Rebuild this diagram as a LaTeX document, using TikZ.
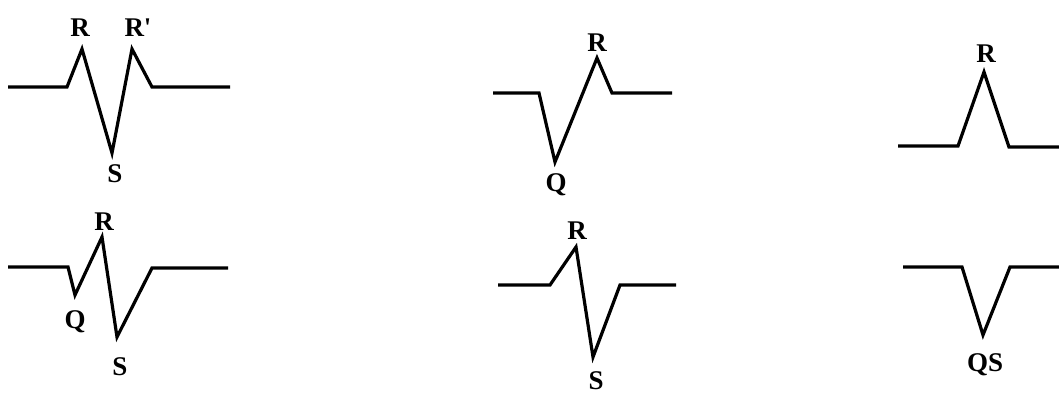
\documentclass[tikz,border=0pt]{standalone}
\usepackage{fontspec}
\setmainfont{Liberation Serif}
\begin{document}
\begin{tikzpicture}[x=1pt,y=-1pt,
  wave/.style={line width=3.2pt,line join=miter,miter limit=10},
  lbl/.style={font=\fontsize{27}{27}\selectfont\bfseries,inner sep=0pt}]
\useasboundingbox (0,0) rectangle (1059,394);
% panel 1: R S R'
\coordinate (a0) at (8,87); \coordinate (a1) at (67,87); \coordinate (aR) at (82,49);
\coordinate (aS) at (112,153); \coordinate (aR2) at (132,49); \coordinate (a2) at (152,87);
\coordinate (a3) at (230,87);
\draw[wave] (a0) -- (a1) -- (aR) -- (aS) -- (aR2) -- (a2) -- (a3);
\node[lbl] (laR) at (80,28) {R};
\node[lbl] (laR2) at (138,28) {R\textquotesingle};
\node[lbl] (laS) at (115,174) {S};
% panel 2: Q R
\coordinate (b0) at (493,93); \coordinate (b1) at (539,93); \coordinate (bQ) at (555,162);
\coordinate (bR) at (597,58); \coordinate (b2) at (612,93); \coordinate (b3) at (672,93);
\draw[wave] (b0) -- (b1) -- (bQ) -- (bR) -- (b2) -- (b3);
\node[lbl] (lbR) at (597,43) {R};
\node[lbl] (lbQ) at (556,185) {Q};
% panel 3: R
\coordinate (c0) at (898,146); \coordinate (c1) at (958,146); \coordinate (cR) at (984,72);
\coordinate (c2) at (1009,147); \coordinate (c3) at (1059,147);
\draw[wave] (c0) -- (c1) -- (cR) -- (c2) -- (c3);
\node[lbl] (lcR) at (986,54) {R};
% panel 4: Q R S
\coordinate (d0) at (8,267); \coordinate (d1) at (68,267); \coordinate (dQ) at (75,295);
\coordinate (dR) at (102,237); \coordinate (dS) at (117,337); \coordinate (d2) at (152,268);
\coordinate (d3) at (228,268);
\draw[wave] (d0) -- (d1) -- (dQ) -- (dR) -- (dS) -- (d2) -- (d3);
\node[lbl] (ldR) at (104,222) {R};
\node[lbl] (ldQ) at (75,322) {Q};
\node[lbl] (ldS) at (120,367) {S};
% panel 5: R S
\coordinate (e0) at (498,285); \coordinate (e1) at (550,285); \coordinate (eR) at (576,247);
\coordinate (eS) at (593,357); \coordinate (e2) at (620,285); \coordinate (e3) at (676,285);
\draw[wave] (e0) -- (e1) -- (eR) -- (eS) -- (e2) -- (e3);
\node[lbl] (leR) at (577,231) {R};
\node[lbl] (leS) at (596,381) {S};
% panel 6: QS
\coordinate (f0) at (903,267); \coordinate (f1) at (962,267); \coordinate (fQS) at (983,335);
\coordinate (f2) at (1010,267); \coordinate (f3) at (1059,267);
\draw[wave] (f0) -- (f1) -- (fQS) -- (f2) -- (f3);
\node[lbl] (lfQS) at (985,365) {QS};
\end{tikzpicture}
\end{document}
